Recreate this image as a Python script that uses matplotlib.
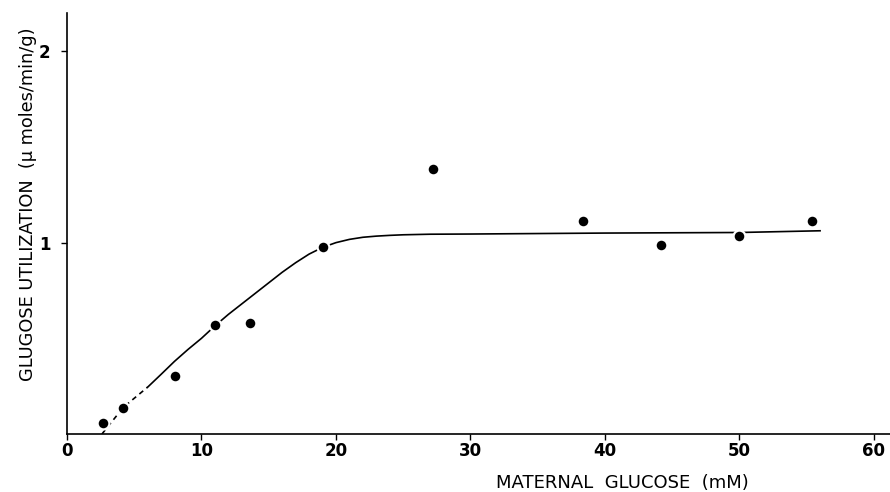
import numpy as np
import matplotlib.pyplot as plt

# measured points
glucose = [2.65, 4.15, 8.0, 11.0, 13.6, 19.0, 27.2, 38.4, 44.2, 50.0, 55.4]
utilization = [0.056, 0.136, 0.305, 0.571, 0.581, 0.978, 1.385, 1.112, 0.987, 1.036, 1.112]

# hand-drawn curve
curve_x = [2.6, 4.2, 6.0, 7.0, 8.0, 9.0, 10.0, 11.0, 12.0, 13.0, 14.0, 15.0, 16.0, 17.0, 18.0,
           19.0, 20.0, 21.0, 22.0, 23.0, 24.0, 25.0, 27.0, 30.0, 40.0, 50.0, 56.0]
curve_y = [0.0, 0.14, 0.245, 0.312, 0.38, 0.442, 0.50, 0.565, 0.625, 0.68, 0.735, 0.79, 0.845,
           0.895, 0.94, 0.975, 1.0, 1.017, 1.028, 1.034, 1.038, 1.041, 1.044, 1.045, 1.05, 1.053, 1.062]
n_dashed = 3  # first part of the curve is dashed

xticks = [0, 10, 20, 30, 40, 50, 60]
yticks = [1, 2]

fig = plt.figure(figsize=(8.9, 4.92), dpi=100)
ax = fig.add_axes([67/890, 1 - 434/492, 823/890, 421/492])

ax.plot(curve_x[:n_dashed], curve_y[:n_dashed], color='black', lw=1.2, ls=(0, (3, 2.5)))
ax.plot(curve_x[n_dashed - 1:], curve_y[n_dashed - 1:], color='black', lw=1.2)
ax.plot(glucose, utilization, 'o', color='black', ms=8.5,
        markeredgecolor='white', markeredgewidth=1.6, zorder=3)

ax.set_xlim(0, 61.2)
ax.set_ylim(0, 2.2)
ax.set_xticks(xticks)
ax.set_yticks(yticks)
tick_font = ['Liberation Sans Narrow', 'DejaVu Sans Condensed', 'DejaVu Sans']
ax.set_xticklabels([str(t) for t in xticks], family=tick_font, weight='bold', fontsize=12)
ax.set_yticklabels([str(t) for t in yticks], family=tick_font, weight='bold', fontsize=12)
ax.tick_params(axis='both', length=4, width=1, direction='out', pad=2)
ax.tick_params(axis='y', pad=8)

for s in ['top', 'right']:
    ax.spines[s].set_visible(False)
ax.spines['left'].set_linewidth(1.2)
ax.spines['bottom'].set_linewidth(1.2)

fig.text(622/890, 1 - 483/492, 'MATERNAL  GLUCOSE  (mM)', ha='center', va='center',
         fontsize=13, family='DejaVu Sans')
fig.text(28/890, 1 - 204/492, 'GLUGOSE UTILIZATION  (\u00b5 moles/min/g)', ha='center', va='center',
         rotation=90, fontsize=12.8, family='DejaVu Sans')

fig.savefig('out.png', dpi=100)
